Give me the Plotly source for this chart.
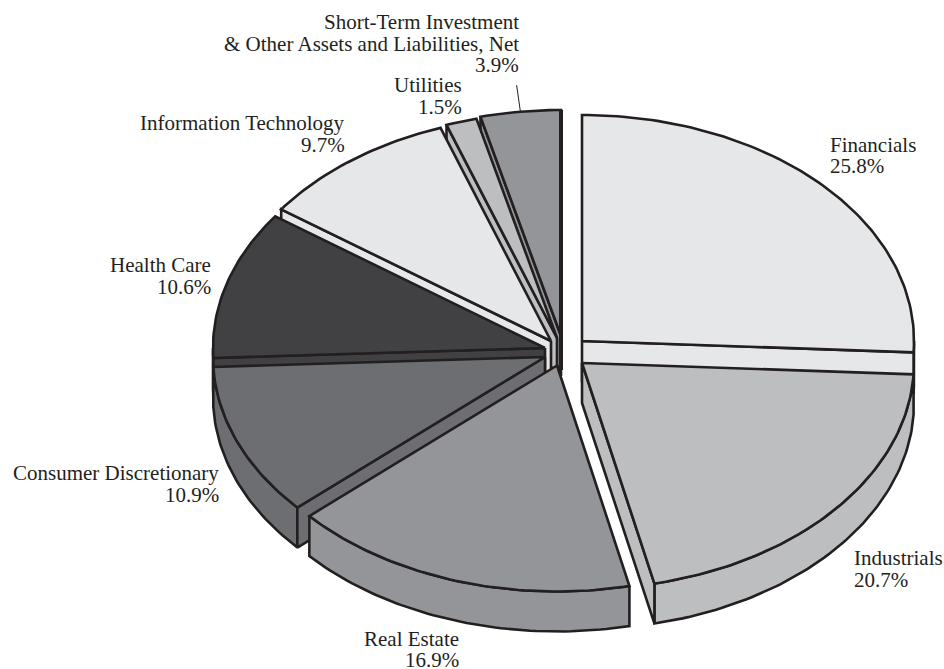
import math
import plotly.graph_objects as go

categories = ["Financials", "Industrials", "Real Estate", "Consumer Discretionary",
              "Health Care", "Information Technology", "Utilities",
              "Short-Term Investment|& Other Assets and Liabilities, Net"]
values = [25.8, 20.7, 16.9, 10.9, 10.6, 9.7, 1.5, 3.9]

# Styling and layout, not data
colors = ["#e6e7e8", "#bcbec0", "#939598", "#6d6e71", "#414042", "#e6e7e8", "#bcbec0", "#939598"]
vertices = [(582, 341), (582, 363), (557, 365.5), (545, 357), (545, 348), (551, 341), (557, 338), (561, 336)]
draw_order = [7, 6, 5, 0, 4, 3, 1, 2]
# anchor x, first line centre y, side
label_pos = [(829, 144.5, "left"), (853, 558, "left"), (460, 638.5, "right"),
             (220, 473, "right"), (212, 265, "right"), (346, 123, "right"),
             (463, 85, "right"), (520, 22, "right")]
LINE_STEP = 21.7
RX, RY, DEPTH = 332, 226, 40
INK = "#231f20"
LW = 2.6


def rim(v, a0, a1, dy=0):
    n = max(2, int((a1 - a0) / 1.0))
    pts = []
    for i in range(n + 1):
        a = math.radians(a0 + (a1 - a0) * i / n)
        pts.append((v[0] + RX * math.sin(a), v[1] - RY * math.cos(a) + dy))
    return pts


fig = go.Figure()


def poly(pts, color):
    xs = [p[0] for p in pts] + [pts[0][0]]
    ys = [p[1] for p in pts] + [pts[0][1]]
    fig.add_trace(go.Scatter(x=xs, y=ys, mode="lines", fill="toself", fillcolor=color,
                             line=dict(color=INK, width=LW),
                             hoverinfo="skip", showlegend=False))


total = sum(values)
starts, acc = [], 0.0
for val in values:
    starts.append(acc / total * 360)
    acc += val

for i in draw_order:
    a0 = starts[i]
    a1 = a0 + values[i] / total * 360
    v = vertices[i]
    c = colors[i]
    top = rim(v, a0, a1)
    vlow = (v[0], v[1] + DEPTH)
    # outer wall: only the part that faces the viewer
    r0, r1 = max(a0, 90), min(a1, 270)
    if r1 > r0:
        poly(rim(v, r0, r1) + rim(v, r0, r1, DEPTH)[::-1], c)
    # radial cut faces: only those that face the viewer
    if math.sin(math.radians(a0)) < -1e-9:
        e = rim(v, a0, a0 + 0.01)[0]
        poly([v, e, (e[0], e[1] + DEPTH), vlow], c)
    if math.sin(math.radians(a1)) > 1e-9:
        e = rim(v, a1 - 0.01, a1)[-1]
        poly([v, e, (e[0], e[1] + DEPTH), vlow], c)
    poly([v] + top, c)

# heavier edge on the slice just left of twelve o'clock
v = vertices[7]
p = rim(v, 360, 360.01)[0]
fig.add_trace(go.Scatter(x=[p[0], p[0]], y=[p[1], v[1] + DEPTH - 6], mode="lines",
                         line=dict(color=INK, width=4), hoverinfo="skip", showlegend=False))

for name, val, (x, y, side) in zip(categories, values, label_pos):
    for k, line in enumerate(name.split("|") + [f"{val}%"]):
        fig.add_annotation(x=x, y=y + k * LINE_STEP, xref="x", yref="y", showarrow=False,
                           text=line, xanchor=side, yanchor="middle", align=side,
                           borderpad=0, font=dict(family="Liberation Serif", size=21, color=INK))

# leader for the last slice, from its mid-angle on the rim
a_mid = starts[7] + values[7] / total * 180
tip = rim(vertices[7], a_mid, a_mid + 0.01)[0]
fig.add_annotation(x=tip[0], y=tip[1], xref="x", yref="y", text="", showarrow=True,
                   arrowhead=0, arrowwidth=1, arrowcolor=INK, ax=-4, ay=-28, standoff=0)

fig.update_layout(width=944, height=669, margin=dict(l=0, r=0, t=0, b=0),
                  paper_bgcolor="white", plot_bgcolor="white", showlegend=False,
                  xaxis=dict(range=[0, 944], visible=False, fixedrange=True),
                  yaxis=dict(range=[669, 0], visible=False, fixedrange=True))
fig.write_html("out.html", post_script="document.body.style.margin='0';",
               config={"displayModeBar": False})
